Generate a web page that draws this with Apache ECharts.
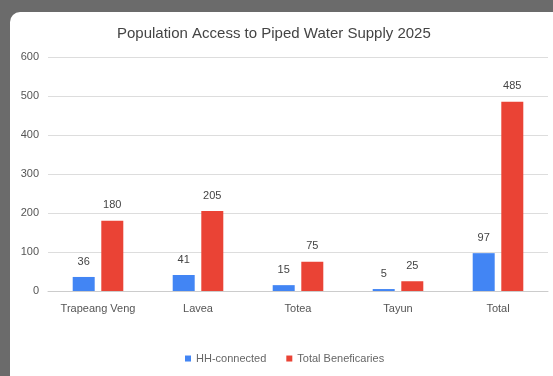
<!DOCTYPE html>
<html>
<head>
    <title>Population Access to Piped Water Supply 2025</title>
    <script src="https://cdn.jsdelivr.net/npm/echarts@6/dist/echarts.min.js"></script>
    <style>
        html, body { margin: 0; padding: 0; background: #6b6b6b; overflow: hidden; }
    </style>
</head>
<body>
    <div id="chart" style="width: 553px; height: 376px;"></div>
    <script>
        const villages = ['Trapeang Veng', 'Lavea', 'Totea', 'Tayun', 'Total'];
        const hhConnected = [36, 41, 15, 5, 97];
        const beneficiaries = [180, 205, 75, 25, 485];
        const yTicks = [0, 100, 200, 300, 400, 500, 600];

        const labelStyle = {
            show: true,
            position: 'top',
            distance: 6,
            color: '#444',
            fontSize: 11,
            fontFamily: 'Arial, Liberation Sans, sans-serif'
        };

        const option = {
            backgroundColor: '#6b6b6b',
            animation: false,
            graphic: [{
                type: 'rect',
                z: -10,
                shape: { x: 10, y: 12, width: 560, height: 400, r: 10 },
                style: { fill: '#ffffff' }
            }],
            title: {
                text: 'Population Access to Piped Water Supply 2025',
                left: 112,
                top: 16,
                textStyle: {
                    fontSize: 15,
                    fontWeight: 'normal',
                    color: '#444',
                    fontFamily: 'Arial, Liberation Sans, sans-serif'
                }
            },
            legend: {
                bottom: 3,
                left: 180,
                itemWidth: 6,
                itemHeight: 6,
                itemGap: 20,
                icon: 'rect',
                textStyle: {
                    fontSize: 11,
                    color: '#666',
                    fontFamily: 'Arial, Liberation Sans, sans-serif'
                },
                data: ['HH-connected', 'Total Beneficaries']
            },
            grid: {
                left: 48,
                right: 5,
                top: 57,
                bottom: 85,
                containLabel: false
            },
            xAxis: {
                type: 'category',
                data: villages,
                axisTick: { show: false },
                axisLine: { lineStyle: { color: '#ccc' } },
                axisLabel: {
                    color: '#555',
                    fontSize: 11,
                    margin: 8,
                    fontFamily: 'Arial, Liberation Sans, sans-serif'
                }
            },
            yAxis: {
                type: 'value',
                min: yTicks[0],
                max: yTicks[yTicks.length - 1],
                interval: 100,
                axisLine: { show: false },
                axisTick: { show: false },
                splitLine: { lineStyle: { color: '#ddd' } },
                axisLabel: {
                    color: '#555',
                    fontSize: 11,
                    margin: 9,
                    fontFamily: 'Arial, Liberation Sans, sans-serif'
                }
            },
            series: [
                {
                    name: 'HH-connected',
                    type: 'bar',
                    data: hhConnected,
                    barWidth: 22,
                    barGap: '30%',
                    itemStyle: { color: '#4285f4' },
                    label: labelStyle
                },
                {
                    name: 'Total Beneficaries',
                    type: 'bar',
                    data: beneficiaries,
                    barWidth: 22,
                    itemStyle: { color: '#ea4335' },
                    label: labelStyle
                }
            ]
        };

        const myChart = echarts.init(document.getElementById('chart'));
        myChart.setOption(option);
    </script>
</body>
</html>
